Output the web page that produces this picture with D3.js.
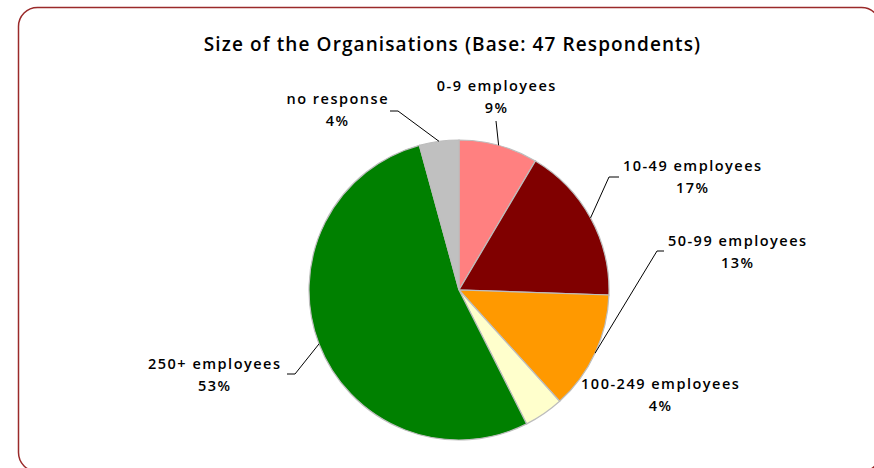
<!DOCTYPE html>
<html>
<head>
<meta charset="utf-8">
<script src="https://cdn.jsdelivr.net/npm/d3@7"></script>
<style>
  html, body { margin: 0; padding: 0; background: #fff; }
  svg { display: block; }
  text { font-family: "Open Sans", sans-serif; fill: #000; }
</style>
</head>
<body>
<svg id="chart" width="874" height="468"></svg>
<script>
const categories = ["0-9 employees", "10-49 employees", "50-99 employees", "100-249 employees", "250+ employees", "no response"];
const counts = [4, 8, 6, 2, 25, 2];
const percentLabels = ["9%", "17%", "13%", "4%", "53%", "4%"];
const colors = ["#FF8080", "#800000", "#FF9900", "#FFFFCC", "#008000", "#C0C0C0"];
const title = "Size of the Organisations (Base: 47 Respondents)";

const svg = d3.select("#chart");

// outer frame
svg.append("rect")
  .attr("x", 18.5).attr("y", 7.5)
  .attr("width", 862).attr("height", 464)
  .attr("rx", 19).attr("ry", 19)
  .attr("fill", "#fff")
  .attr("stroke", "#9a2a2a").attr("stroke-width", 1.5);

svg.append("text")
  .attr("x", 452.5).attr("y", 51)
  .attr("text-anchor", "middle")
  .attr("font-size", 19).attr("font-weight", 600)
  .attr("letter-spacing", 1.1)
  .text(title);

const cx = 459, cy = 290, R = 150;
const pie = d3.pie().sort(null).value(d => d)(counts);
const arc = d3.arc().innerRadius(0).outerRadius(R);

const g = svg.append("g").attr("transform", `translate(${cx},${cy})`);
g.selectAll("path.slice").data(pie).enter().append("path")
  .attr("class", "slice")
  .attr("d", arc)
  .attr("fill", (d, i) => colors[i])
  .attr("stroke", "#bdbdbd").attr("stroke-width", 1.2);

// label layout (center x, first baseline y, leader horizontal end and elbow)
const labelPos = [
  { x: 496, y: 91,  leader: [[496, 121]] },
  { x: 692, y: 171, leader: [[619, 177], [609, 177]] },
  { x: 737, y: 246, leader: [[664, 251], [657, 251]] },
  { x: 660, y: 389, leader: null },
  { x: 214, y: 369, leader: [[287, 374], [295, 374]] },
  { x: 337, y: 104, leader: [[390, 111], [398, 111]] }
];

pie.forEach((d, i) => {
  const mid = (d.startAngle + d.endAngle) / 2;
  const px = cx + R * Math.sin(mid), py = cy - R * Math.cos(mid);
  const lp = labelPos[i];
  if (lp.leader) {
    const pts = lp.leader.concat([[px, py]]);
    svg.append("path")
      .attr("d", d3.line()(pts))
      .attr("fill", "none").attr("stroke", "#000").attr("stroke-width", 1);
  }
  const t = svg.append("text").attr("text-anchor", "middle")
    .attr("font-size", 14.5).attr("font-weight", 600)
    .attr("letter-spacing", 1.5);
  t.append("tspan").attr("x", lp.x + 0.75).attr("y", lp.y).text(categories[i]);
  t.append("tspan").attr("x", lp.x + 0.75).attr("y", lp.y + 22).text(percentLabels[i]);
});
</script>
</body>
</html>
